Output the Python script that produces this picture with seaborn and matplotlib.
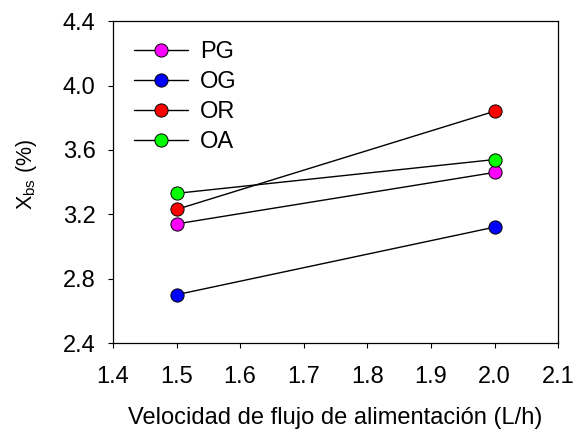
import matplotlib
matplotlib.use("Agg")
import matplotlib.pyplot as plt
import seaborn as sns
import pandas as pd

sns.set_theme(style="ticks")
plt.rcParams["font.family"] = ["Liberation Sans", "DejaVu Sans"]
plt.rcParams["mathtext.fontset"] = "custom"
plt.rcParams["mathtext.rm"] = "Liberation Sans"
plt.rcParams["mathtext.it"] = "Liberation Sans"
for key in ["text.color", "axes.labelcolor", "xtick.color", "ytick.color"]:
    plt.rcParams[key] = "black"

# Feed flow rate (L/h) and moisture content on dry basis (%)
flow = [1.5, 2.0]
series_names = ["PG", "OG", "OR", "OA"]
pg = [3.14, 3.46]
og = [2.70, 3.12]
or_ = [3.23, 3.84]
oa = [3.33, 3.54]
colors = ["#ff00ff", "#0000ff", "#ff0000", "#00ff00"]

xticks = [1.4, 1.5, 1.6, 1.7, 1.8, 1.9, 2.0, 2.1]
yticks = [2.4, 2.8, 3.2, 3.6, 4.0, 4.4]

frames = []
for name, vals in zip(series_names, [pg, og, or_, oa]):
    frames.append(pd.DataFrame({"flow": flow, "X": vals, "serie": name}))
df = pd.concat(frames, ignore_index=True)

fig = plt.figure(figsize=(5.76, 4.32), dpi=100)
ax = fig.add_axes([0.196, 0.206, 0.773, 0.745])

fs = 17
for name, c in zip(series_names, colors):
    sub = df[df["serie"] == name]
    sns.lineplot(data=sub, x="flow", y="X", ax=ax, color="black", lw=1.0,
                 marker="o", markersize=9.5, markerfacecolor=c,
                 markeredgecolor="black", markeredgewidth=0.7, label=name)

ax.set_xlim(1.4, 2.1)
ax.set_ylim(2.4, 4.4)
ax.set_xticks(xticks)
ax.set_yticks(yticks)
ax.set_xticklabels([f"{v:.1f}" for v in xticks])
ax.set_yticklabels([f"{v:.1f}" for v in yticks])
ax.tick_params(axis="both", direction="out", length=3.5, width=0.8,
               labelsize=fs, colors="black")
ax.tick_params(axis="x", pad=13)
ax.tick_params(axis="y", pad=9)
for s in ax.spines.values():
    s.set_linewidth(0.9)
    s.set_color("black")

ax.set_xlabel("Velocidad de flujo de alimentación (L/h)", fontsize=fs, labelpad=14)
ax.set_ylabel(r"X$_{\mathrm{bs}}$ (%)", fontsize=15.5)
ax.yaxis.set_label_coords(-0.165, 0.525)

ax.legend(loc="upper left", bbox_to_anchor=(0.01, 0.99), frameon=False,
          fontsize=fs, handlelength=2.3, handletextpad=0.5, labelspacing=0.34,
          borderaxespad=0.3)

fig.savefig("out.png", dpi=100)
